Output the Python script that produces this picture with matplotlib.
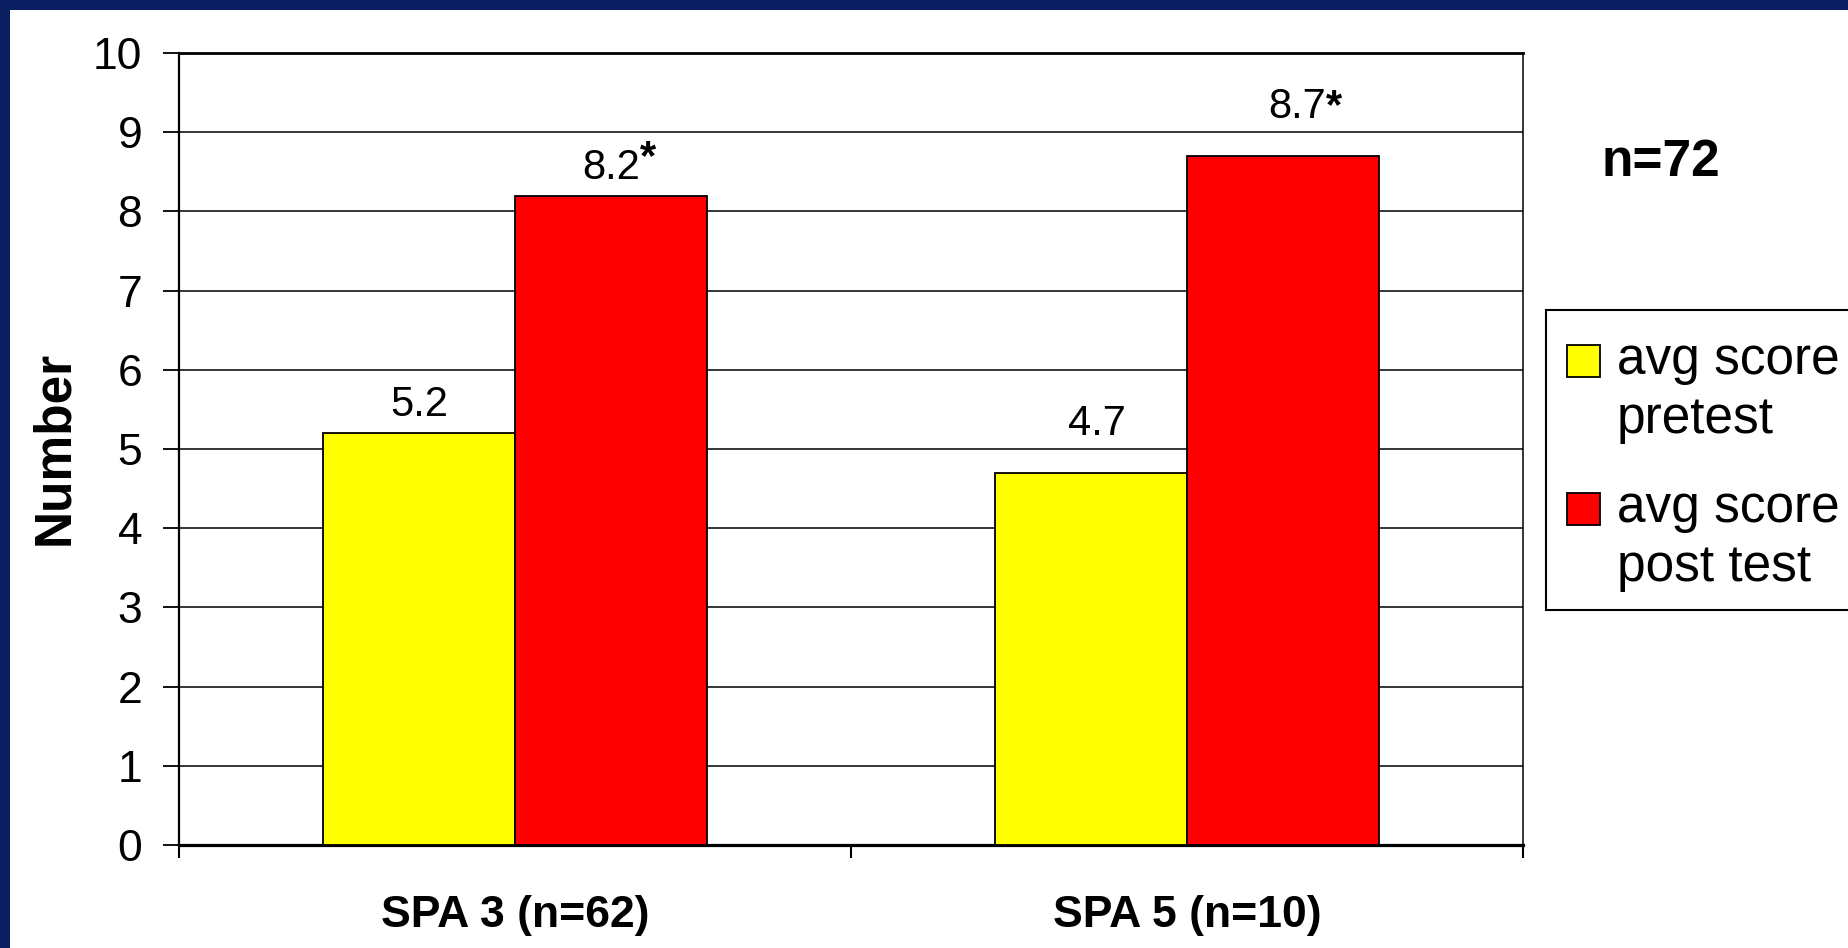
import numpy as np
import matplotlib.pyplot as plt
from matplotlib.patches import Rectangle

plt.rcParams['font.family'] = ['Liberation Sans', 'DejaVu Sans']

# data
categories = ['SPA 3 (n=62)', 'SPA 5 (n=10)']
series_names = ['avg score\npretest', 'avg score\npost test']
pretest = [5.2, 4.7]
posttest = [8.2, 8.7]
post_star = [True, True]
y_ticks = list(range(0, 11))
total_label = 'n=72'
y_title = 'Number'

W, H = 1849, 948
fig = plt.figure(figsize=(W / 100, H / 100), dpi=100)
fig.patch.set_facecolor('white')

def fx(px):
    return px / W

def fy(py):
    return 1 - py / H

# navy slide frame (top and left)
navy = '#0b2063'
fig.add_artist(Rectangle((0, fy(10)), 1, 10 / H, transform=fig.transFigure,
                         facecolor=navy, edgecolor='none', zorder=0))
fig.add_artist(Rectangle((0, 0), fx(10), 1, transform=fig.transFigure,
                         facecolor=navy, edgecolor='none', zorder=0))

ax = fig.add_axes([fx(179), fy(845), fx(1523) - fx(179), fy(53) - fy(845)])

x = np.arange(len(categories))
w = 0.286
colors = ['#ffff00', '#ff0000']
b1 = ax.bar(x - w / 2, pretest, w, color=colors[0], edgecolor='black', linewidth=1.3, zorder=3)
b2 = ax.bar(x + w / 2, posttest, w, color=colors[1], edgecolor='black', linewidth=1.3, zorder=3)

ax.set_xlim(-0.5, len(categories) - 0.5)
ax.set_ylim(0, 10)
ax.set_yticks(y_ticks)
ax.yaxis.grid(True, color='black', linewidth=1.1)
ax.set_axisbelow(True)

# category boundary ticks + centered labels
ax.set_xticks(np.arange(len(categories) + 1) - 0.5)
ax.set_xticklabels([])
ax.set_xticks(x, minor=True)
ax.set_xticklabels(categories, minor=True, fontsize=32, fontweight='bold')
ax.tick_params(axis='x', which='minor', length=0, pad=36)
ax.tick_params(axis='x', which='major', length=9, width=1.5, direction='out')
ax.tick_params(axis='y', length=11.5, width=1.3, pad=15, labelsize=32)

ax.spines['left'].set_linewidth(1.6)
ax.spines['bottom'].set_linewidth(2.3)
ax.spines['top'].set_linewidth(2.0)
ax.spines['right'].set_linewidth(1.1)

# value labels
label_off = [12, 27]   # points above bar top, per group
label_dx = [0, 10]     # post test label nudge, per group
star_raise = [7, 0]
for i in range(len(categories)):
    xc = x[i] - w / 2
    ax.annotate(f'{pretest[i]:.1f}', xy=(xc, pretest[i]), xytext=(label_dx[i] * 0.4, label_off[i]),
                textcoords='offset points', ha='center', va='baseline', fontsize=30)
    xc = x[i] + w / 2
    ax.annotate(f'{posttest[i]:.1f}', xy=(xc, posttest[i]), xytext=(label_dx[i], label_off[i]),
                textcoords='offset points', ha='center', va='baseline', fontsize=30)
    if post_star[i]:
        ax.annotate('*', xy=(xc, posttest[i]),
                    xytext=(20.5 + label_dx[i], label_off[i] + star_raise[i]),
                    textcoords='offset points', ha='left', va='baseline',
                    fontsize=30, fontweight='bold')

fig.text(fx(55), fy(448), y_title, rotation=90, ha='center', va='center',
         fontsize=37, fontweight='bold')
fig.text(fx(1661), fy(163), total_label, ha='center', va='center',
         fontsize=37, fontweight='bold')

# legend box (handle sits on the first text line, like the original)
fig.add_artist(Rectangle((fx(1546), fy(610)), fx(1900) - fx(1546), fy(310) - fy(610),
                         transform=fig.transFigure, facecolor='white',
                         edgecolor='black', linewidth=1.5, zorder=2))
entry_top = [361, 509]
for k, (name, col) in enumerate(zip(series_names, colors)):
    cy = entry_top[k]
    fig.add_artist(Rectangle((fx(1567), fy(cy + 16)), fx(33), 32 / H,
                             transform=fig.transFigure, facecolor=col,
                             edgecolor='black', linewidth=1.3, zorder=3))
    for j, line in enumerate(name.split('\n')):
        fig.text(fx(1617), fy(cy + 13 + 59 * j), line, ha='left', va='baseline',
                 fontsize=37, zorder=4)

fig.savefig('out.png', dpi=100, facecolor=fig.get_facecolor())
